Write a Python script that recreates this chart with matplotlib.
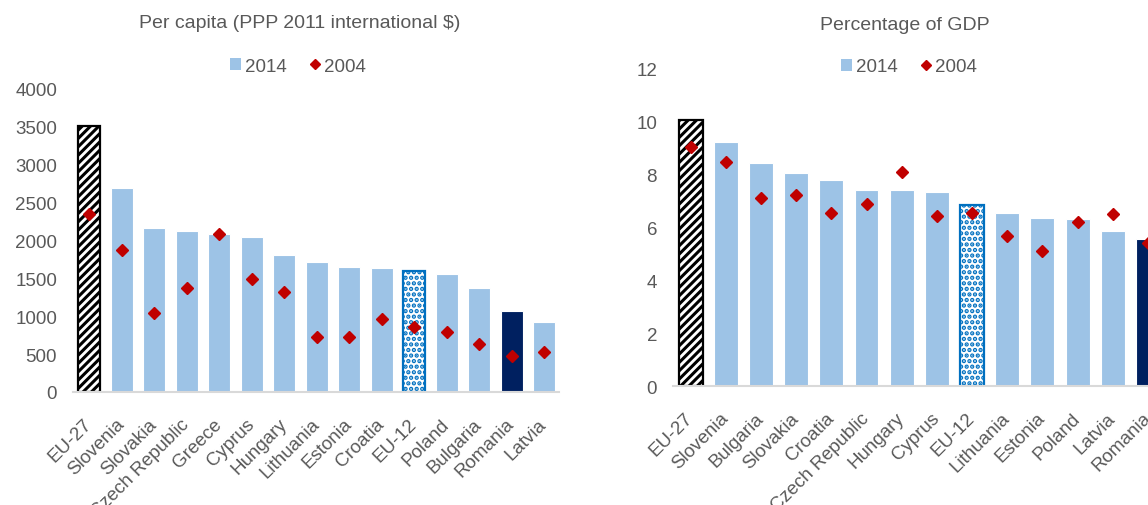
import matplotlib
matplotlib.use("Agg")
import matplotlib.pyplot as plt
from matplotlib.patches import Patch
from matplotlib.lines import Line2D

plt.rcParams['font.family'] = ['Liberation Sans', 'DejaVu Sans']

# Left panel: per capita (PPP 2011 international $)
pc_countries = ["EU-27", "Slovenia", "Slovakia", "Czech Republic", "Greece", "Cyprus",
                "Hungary", "Lithuania", "Estonia", "Croatia", "EU-12", "Poland",
                "Bulgaria", "Romania", "Latvia"]
pc_2014 = [3515, 2695, 2165, 2130, 2090, 2048, 1812, 1715, 1652, 1638, 1600, 1560,
           1375, 1070, 925]
pc_2004 = [2345, 1876, 1045, 1375, 2088, 1495, 1320, 728, 728, 965, 862, 793,
           635, 476, 532]

# Right panel: percentage of GDP
gdp_countries = ["EU-27", "Slovenia", "Bulgaria", "Slovakia", "Croatia", "Czech Republic",
                 "Hungary", "Cyprus", "EU-12", "Lithuania", "Estonia", "Poland",
                 "Latvia", "Romania"]
gdp_2014 = [10.05, 9.23, 8.42, 8.03, 7.78, 7.40, 7.39, 7.34, 6.85, 6.53, 6.36, 6.32,
            5.84, 5.54]
gdp_2004 = [9.02, 8.46, 7.09, 7.23, 6.52, 6.86, 8.07, 6.41, 6.55, 5.68, 5.11, 6.18,
            6.48, 5.40]

LIGHT = "#9DC3E6"
NAVY = "#002060"
RED = "#C00000"
EU12BLUE = "#0070C0"
GRAY = "#595959"
FS = 13.5

fig = plt.figure(figsize=(11.48, 5.06), dpi=100)
W, H = 1148, 506

def make_axes(x0, x1, ybot, ytop):
    return fig.add_axes([x0 / W, 1 - ybot / H, (x1 - x0) / W, (ybot - ytop) / H])

def draw_panel(ax, cats, v14, v04, ymax, ystep, xmax):
    x = list(range(len(cats)))
    for i, (c, v) in enumerate(zip(cats, v14)):
        if c == "EU-27":
            plt.rcParams['hatch.linewidth'] = 2.2
            ax.bar(i, v, width=0.68, facecolor="white", edgecolor="black",
                   hatch="////", linewidth=1.6, zorder=2)
        elif c == "EU-12":
            plt.rcParams['hatch.linewidth'] = 2.2
            ax.bar(i, v, width=0.68, facecolor="white", edgecolor=EU12BLUE,
                   hatch="...", linewidth=1.6, zorder=2)
        elif c == "Romania":
            ax.bar(i, v, width=0.68, color=NAVY, edgecolor="white",
                   linewidth=0.8, zorder=2)
        else:
            ax.bar(i, v, width=0.68, color=LIGHT, edgecolor="white",
                   linewidth=0.8, zorder=2)
    ax.plot(x, v04, linestyle="none", marker="D", markersize=6,
            color=RED, zorder=3)
    ax.set_ylim(0, ymax)
    ax.set_yticks([ystep * k for k in range(int(round(ymax / ystep)) + 1)])
    ax.set_xlim(-0.5, xmax)
    ax.set_xticks(x)
    ax.set_xticklabels(cats, rotation=45, ha="right", va="center",
                       rotation_mode="anchor", fontsize=FS, color=GRAY)
    ax.tick_params(axis="y", labelsize=FS, labelcolor=GRAY, length=0, pad=11.5)
    ax.tick_params(axis="x", length=0, pad=21)
    for s in ("top", "right", "left"):
        ax.spines[s].set_visible(False)
    ax.spines["bottom"].set_color("#D9D9D9")
    ax.spines["bottom"].set_linewidth(1.5)

axL = make_axes(73, 559, 393, 90)
draw_panel(axL, pc_countries, pc_2014, pc_2004, 4000, 500, 14.46)

axR = make_axes(673, 1148, 387, 69.4)
draw_panel(axR, gdp_countries, gdp_2014, gdp_2004, 12, 2, 12.97)

fig.text(300 / W, 1 - 23 / H, r"Per capita (PPP 2011 international \$)",
         ha="center", va="center", fontsize=14, color=GRAY)
fig.text(905 / W, 1 - 26 / H, "Percentage of GDP",
         ha="center", va="center", fontsize=14, color=GRAY)

handles = [Patch(facecolor=LIGHT, edgecolor="none"),
           Line2D([], [], linestyle="none", marker="D", markersize=5, color=RED)]
labels = ["2014", "2004"]
for cx, cy in ((298, 67), (909, 68)):
    fig.legend(handles, labels, loc="center", bbox_to_anchor=(cx / W, 1 - cy / H),
               ncol=2, frameon=False, fontsize=FS, labelcolor=GRAY,
               handlelength=0.6, handleheight=0.6, handletextpad=0.2,
               columnspacing=1.2)

fig.savefig("out.png", dpi=100)
